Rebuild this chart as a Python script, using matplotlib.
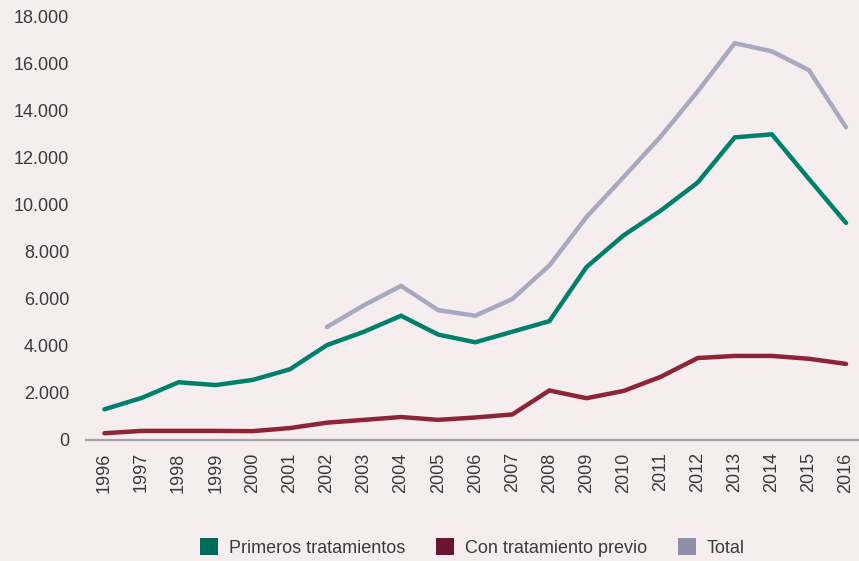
import matplotlib
matplotlib.use("Agg")
import matplotlib.pyplot as plt
from matplotlib.patches import Patch
from matplotlib.ticker import FuncFormatter

years = list(range(1996, 2017))
primeros = [1300, 1780, 2450, 2330, 2550, 3000, 4030, 4600, 5280, 4480, 4150,
            4600, 5050, 7350, 8700, 9750, 10950, 12870, 13000, 11100, 9230]
previo = [280, 380, 380, 380, 370, 500, 730, 850, 970, 850, 950,
          1080, 2100, 1770, 2080, 2680, 3480, 3570, 3570, 3450, 3230]
total_years = list(range(2002, 2017))
total = [4800, 5730, 6550, 5520, 5280, 5990, 7420, 9480, 11180, 12900,
         14830, 16880, 16530, 15730, 13300]
y_ticks = [0, 2000, 4000, 6000, 8000, 10000, 12000, 14000, 16000, 18000]
legend_labels = ["Primeros tratamientos", "Con tratamiento previo", "Total"]

bg = "#f6edef"
plt.rcParams['font.family'] = ['Liberation Sans', 'DejaVu Sans']

fig = plt.figure(figsize=(8.59, 5.61), dpi=100, facecolor=bg)
ax = fig.add_axes([0.1, 0.216, 0.9, 0.754], facecolor=bg)

ax.plot(total_years, total, color="#a8a9c1", lw=3.2, solid_capstyle="round", solid_joinstyle="miter", zorder=2)
ax.plot(years, primeros, color="#00806b", lw=3.2, solid_capstyle="round", solid_joinstyle="miter", zorder=3)
ax.plot(years, previo, color="#8c2535", lw=3.2, solid_capstyle="round", solid_joinstyle="miter", zorder=3)

ax.set_xlim(1995.5, 2016.35)
ax.set_ylim(0, 18000)
ax.set_yticks(y_ticks)
ax.yaxis.set_major_formatter(FuncFormatter(lambda v, p: f"{int(v):,}".replace(",", ".")))
ax.set_xticks(years)
ax.set_xticklabels([str(y) for y in years], rotation=90)

for s in ["top", "right", "left"]:
    ax.spines[s].set_visible(False)
ax.spines["bottom"].set_color("#a3a3a3")
ax.spines["bottom"].set_linewidth(1.6)
ax.tick_params(axis="both", length=0, labelsize=13, colors="#3a3a3a")
ax.tick_params(axis="y", pad=12)
ax.tick_params(axis="x", pad=9)

handles = [Patch(facecolor="#006b58", edgecolor="none"),
           Patch(facecolor="#6a1531", edgecolor="none"),
           Patch(facecolor="#8f90a8", edgecolor="none")]
fig.legend(handles, legend_labels, loc="center", bbox_to_anchor=(0.55, 0.024),
           ncol=3, frameon=False, fontsize=13, handlelength=1.0, handleheight=1.0,
           handletextpad=0.6, columnspacing=1.7, labelcolor="#3a3a3a")

fig.savefig("out.png", dpi=100, facecolor=bg)
